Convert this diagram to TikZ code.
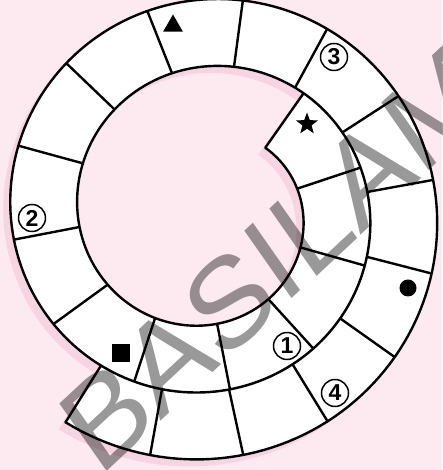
\documentclass[tikz,border=0pt]{standalone}
\usepackage{fontspec}
\setmainfont{Liberation Sans}
\usetikzlibrary{shapes.geometric}

\definecolor{bgpink}{RGB}{253,234,241}
\definecolor{shadowpink}{RGB}{247,212,226}

% spiral track: inner wall r = 96 - 0.186*phi, outer wall 67 further out
\newcommand\spiralband{plot[domain=51:-484, samples=260] (\x:{163-0.186*\x})
  -- plot[domain=-484.7:48, samples=260] (\x:{96-0.186*\x}) -- cycle}

\begin{document}
\begin{tikzpicture}[x=1pt, y=1pt, line join=round,
  wall/.style={line width=2.4pt},
  num/.style={circle, draw, line width=1.5pt, inner sep=0pt, minimum size=27pt,
    font=\bfseries\fontsize{23}{23}\selectfont},
  symb/.style={fill=black, inner sep=0pt}]
  \useasboundingbox (0,0) rectangle (442,470);
  \fill[bgpink] (0,0) rectangle (442,470);
  \begin{scope}[shift={(207,257.5)}]
    \fill[shadowpink, xshift=-7pt, yshift=-7pt] \spiralband;
    \fill[white] \spiralband;
  \end{scope}
  % watermark
  \node[cm={0.731,0.682,-0.545,0.778,(0,0)}, anchor=base west, inner sep=0pt,
    text=black, opacity=0.4, font=\fontsize{126}{126}\selectfont]
    (wm) at (99,-9) {BASILAMAZ};
  \begin{scope}[shift={(207,257.5)}]
    \draw[wall] \spiralband;
    % cell dividers (inner angle / outer angle)
    \foreach \a/\b in {14.8/16.3, -20.5/-18.6, -54.7/-52, -84.8/-82.6,
        -116.2/-113.3, -144/-144, -173.5/-172, -201.6/-199.5, -228.1/-226.7,
        -255.9/-253.5, -280.5/-279.6, -305.2/-303.2, -329.4/-328.7,
        -352.7/-351.8, -375.5/-375.2, -398.5/-397.6, -420.6/-420,
        -442.9/-441.5, -464.3/-463.2}
      \draw[wall] (\a:{96-0.186*\a}) -- (\b:{163-0.186*\b});
  \end{scope}
  % symbols
  \node[symb, star, star points=5, star point ratio=2.4, minimum size=23pt] (star) at (307,346) {};
  \node[symb, regular polygon, regular polygon sides=3, minimum size=23pt] (tri) at (173,444) {};
  \node[symb, minimum size=18pt] (sq) at (121,117) {};
  \node[symb, circle, minimum size=17pt] (dot) at (408,182) {};
  \node[num] (n1) at (287,124) {1};
  \node[num] (n2) at (32,252) {2};
  \node[num] (n3) at (334,413) {3};
  \node[num] (n4) at (335,77) {4};
\end{tikzpicture}
\end{document}
